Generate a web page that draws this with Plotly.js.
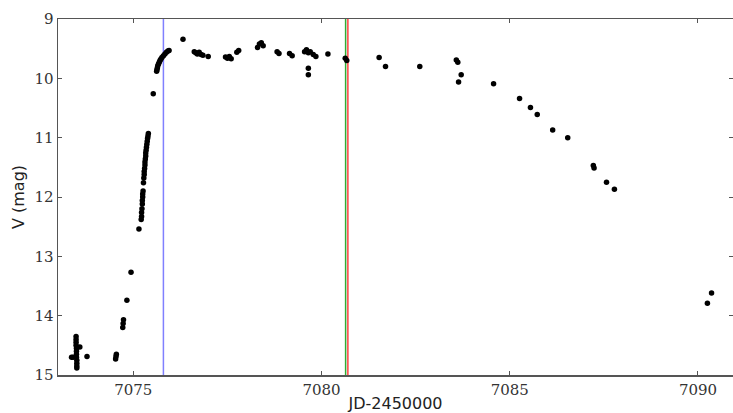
<!DOCTYPE html>
<html>
<head>
<meta charset="utf-8">
<script src="https://cdn.plot.ly/plotly-3.0.1.min.js"></script>
<style>html,body{margin:0;padding:0;background:#fff;}#chart{width:733px;height:413px;}</style>
</head>
<body>
<div id="chart"></div>
<script>
// Light-curve photometry: JD-2450000 vs V magnitude
const jd = [
  7073.36, 7073.40, 7073.48, 7073.48, 7073.48, 7073.48, 7073.49, 7073.49, 7073.49, 7073.49, 7073.50, 7073.50, 7073.50, 7073.50, 7073.58, 7073.77,
  7074.53, 7074.54, 7074.55, 7074.72, 7074.73, 7074.74, 7074.83, 7074.94, 7075.15,
  7075.21, 7075.22, 7075.22, 7075.23, 7075.24, 7075.24, 7075.25, 7075.25, 7075.26, 7075.27, 7075.28, 7075.29, 7075.29, 7075.30, 7075.31, 7075.31, 7075.32, 7075.33, 7075.33, 7075.34, 7075.35, 7075.36, 7075.37, 7075.38, 7075.39, 7075.40,
  7075.53,
  7075.62, 7075.63, 7075.64, 7075.65, 7075.67, 7075.69, 7075.71, 7075.73, 7075.76, 7075.80, 7075.84, 7075.88, 7075.92, 7075.95,
  7076.32,
  7076.62, 7076.66, 7076.70, 7076.75, 7076.80, 7076.85, 7076.99,
  7077.45, 7077.50, 7077.55, 7077.60, 7077.75, 7077.80,
  7078.30, 7078.35, 7078.40, 7078.45, 7078.82, 7078.87, 7079.15, 7079.22,
  7079.55, 7079.60, 7079.65, 7079.70, 7079.78, 7079.85, 7079.65, 7079.65,
  7080.17, 7080.63, 7080.67,
  7081.53, 7081.70, 7082.61,
  7083.58, 7083.62, 7083.71, 7083.64,
  7084.57, 7085.26, 7085.55, 7085.73, 7086.14, 7086.54, 7087.22, 7087.24, 7087.57, 7087.78,
  7090.25, 7090.36
];
const vmag = [
  14.70, 14.70, 14.35, 14.40, 14.45, 14.50, 14.55, 14.60, 14.65, 14.70, 14.75, 14.80, 14.85, 14.88, 14.53, 14.69,
  14.73, 14.69, 14.65, 14.20, 14.13, 14.07, 13.74, 13.27, 12.54,
  12.38, 12.33, 12.26, 12.20, 12.12, 12.06, 12.00, 11.95, 11.90, 11.76, 11.68, 11.62, 11.57, 11.52, 11.46, 11.41, 11.36, 11.31, 11.26, 11.21, 11.16, 11.11, 11.06, 11.01, 10.97, 10.93,
  10.26,
  9.88, 9.85, 9.82, 9.79, 9.76, 9.73, 9.70, 9.68, 9.65, 9.62, 9.59, 9.56, 9.54, 9.53,
  9.34,
  9.55, 9.57, 9.59, 9.56, 9.60, 9.61, 9.63,
  9.64, 9.66, 9.63, 9.67, 9.56, 9.53,
  9.48, 9.42, 9.40, 9.45, 9.55, 9.58, 9.58, 9.62,
  9.55, 9.52, 9.57, 9.55, 9.60, 9.63, 9.83, 9.94,
  9.59, 9.66, 9.70,
  9.65, 9.80, 9.80,
  9.69, 9.73, 9.94, 10.06,
  10.09, 10.34, 10.49, 10.61, 10.87, 11.00, 11.47, 11.51, 11.75, 11.87,
  13.79, 13.62
];
// Marker epochs (vertical lines)
const lineJD = [7075.80, 7080.64, 7080.70];
const lineColors = ['#8080ff', '#33aa33', '#ff4040'];
const xTicks = [7075, 7080, 7085, 7090];
const yTicks = [9, 10, 11, 12, 13, 14, 15];

const shapes = lineJD.map((x, i) => ({
  type: 'line', xref: 'x', yref: 'paper', x0: x, x1: x, y0: 0, y1: 1,
  line: {color: lineColors[i], width: 1.5}, layer: 'below'
}));

const trace = {
  x: jd, y: vmag, type: 'scatter', mode: 'markers',
  marker: {color: '#000', size: 5.5},
  hoverinfo: 'skip'
};

const tickFont = {family: 'DejaVu Serif', size: 15, color: '#333'};
const layout = {
  width: 733, height: 413,
  margin: {l: 58, r: 0, t: 19, b: 38},
  paper_bgcolor: '#fff', plot_bgcolor: '#fff',
  showlegend: false,
  shapes: shapes,
  xaxis: {
    range: [7073.0, 7090.93],
    tickvals: xTicks, ticktext: xTicks.map(String),
    ticks: 'inside', ticklen: 4, tickcolor: '#555', tickwidth: 1,
    showline: true, linecolor: '#555', linewidth: 1.5, mirror: 'ticks',
    showgrid: false, zeroline: false,
    tickfont: tickFont,
    title: {text: 'JD-2450000', font: {family: 'DejaVu Sans', size: 16, color: '#222'}, standoff: 2}
  },
  yaxis: {
    range: [15, 9],
    tickvals: yTicks, ticktext: yTicks.map(String),
    ticks: 'inside', ticklen: 4, tickcolor: '#555', tickwidth: 1,
    showline: true, linecolor: '#555', linewidth: 1.5, mirror: 'ticks',
    showgrid: false, zeroline: false,
    tickfont: tickFont,
    title: {text: 'V (mag)', font: {family: 'DejaVu Sans', size: 16, color: '#222'}, standoff: 6}
  }
};

Plotly.newPlot('chart', [trace], layout, {staticPlot: true, displayModeBar: false});
</script>
</body>
</html>
